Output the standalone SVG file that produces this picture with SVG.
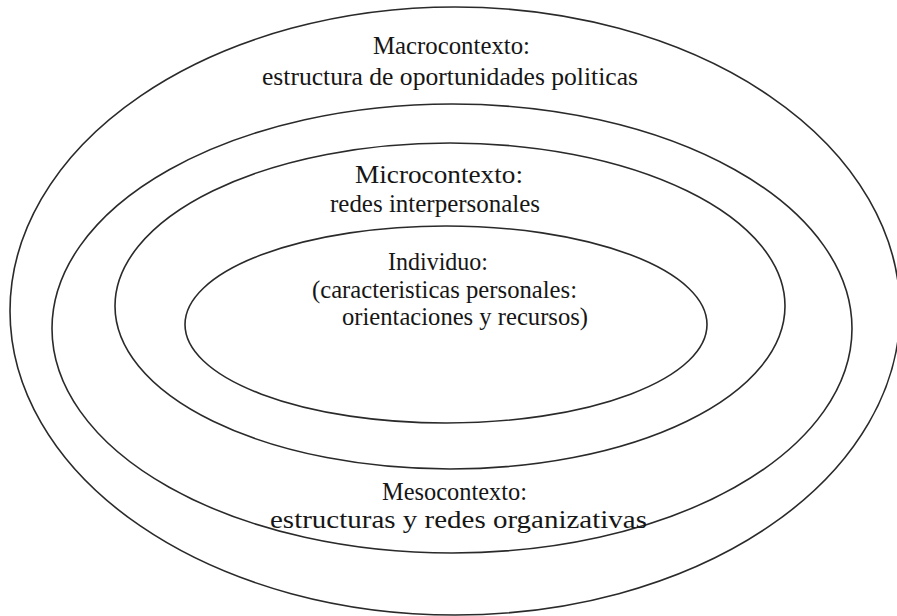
<svg xmlns="http://www.w3.org/2000/svg" width="897" height="616" viewBox="0 0 897 616">
<style>
.ring{fill:none;stroke:#2a2a2a;stroke-width:1.6}
.t{font-family:"Liberation Serif","Times New Roman",serif;font-size:25px;fill:#161616}
</style>
<rect width="897" height="616" fill="#ffffff"/>
<g id="macrocontexto">
<ellipse class="ring" cx="455" cy="311" rx="445" ry="304"/>
<text class="t" x="373" y="54" textLength="157" lengthAdjust="spacingAndGlyphs">Macrocontexto:</text>
<text class="t" x="262" y="85" textLength="376" lengthAdjust="spacingAndGlyphs">estructura de oportunidades politicas</text>
</g>
<g id="mesocontexto">
<ellipse class="ring" cx="452" cy="328.5" rx="400" ry="224.5"/>
<text class="t" x="382" y="500" textLength="145" lengthAdjust="spacingAndGlyphs">Mesocontexto:</text>
<text class="t" x="270" y="528" textLength="377" lengthAdjust="spacingAndGlyphs">estructuras y redes organizativas</text>
</g>
<g id="microcontexto">
<ellipse class="ring" cx="450" cy="306" rx="335" ry="163"/>
<text class="t" x="355" y="183" textLength="168" lengthAdjust="spacingAndGlyphs">Microcontexto:</text>
<text class="t" x="330" y="212" textLength="210" lengthAdjust="spacingAndGlyphs">redes interpersonales</text>
</g>
<g id="individuo">
<ellipse class="ring" cx="446" cy="324.5" rx="261" ry="98.5"/>
<text class="t" x="388" y="270" textLength="100" lengthAdjust="spacingAndGlyphs">Individuo:</text>
<text class="t" x="312" y="298" textLength="265" lengthAdjust="spacingAndGlyphs">(caracteristicas personales:</text>
<text class="t" x="342" y="325" textLength="246" lengthAdjust="spacingAndGlyphs">orientaciones y recursos)</text>
</g>
<g id="connectors"/>
</svg>
